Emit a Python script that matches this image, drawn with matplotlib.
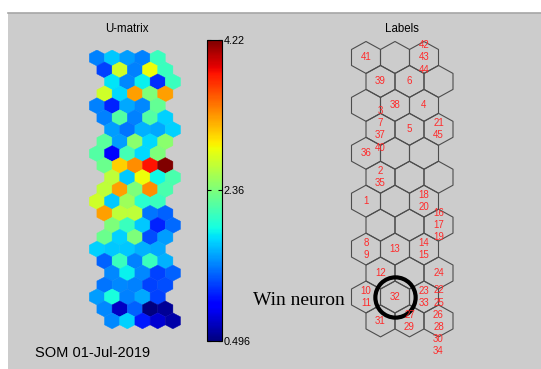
import numpy as np
import matplotlib
matplotlib.use("Agg")
import matplotlib.pyplot as plt
from matplotlib.collections import PolyCollection
from matplotlib.colors import Normalize
from matplotlib.patches import Rectangle
from matplotlib.lines import Line2D

plt.rcParams['font.family'] = ['Liberation Sans', 'DejaVu Sans']

# U-matrix of the 12x3 hexagonal SOM (23x5 cells), top row first
umat = np.array([
    [1.43, 1.69, 1.54, 1.43, 2.06],
    [1.20, 2.73, 1.43, 2.88, 2.06],
    [1.80, 1.46, 1.84, 1.13, 2.06],
    [2.73, 1.76, 3.25, 2.36, 3.25],
    [1.43, 1.09, 1.58, 1.46, 2.25],
    [1.43, 2.17, 1.43, 2.17, 1.72],
    [1.54, 1.39, 1.61, 1.58, 1.72],
    [2.21, 1.54, 2.43, 1.76, 2.43],
    [2.17, 0.94, 2.10, 1.76, 2.36],
    [2.28, 3.07, 3.33, 3.81, 4.22],
    [2.66, 1.69, 2.88, 1.87, 2.13],
    [2.66, 3.25, 2.36, 3.33, 2.13],
    [2.73, 1.69, 2.51, 1.99, 2.06],
    [3.25, 2.66, 2.66, 1.39, 1.32],
    [2.36, 2.06, 1.69, 1.09, 1.35],
    [2.28, 1.72, 2.36, 1.24, 1.54],
    [1.72, 1.69, 1.69, 1.61, 1.58],
    [1.32, 2.06, 1.43, 2.06, 1.61],
    [1.46, 1.84, 1.46, 1.20, 1.32],
    [1.39, 1.46, 1.43, 1.20, 1.24],
    [1.54, 1.91, 1.43, 1.58, 1.20],
    [1.46, 0.72, 1.32, 0.50, 0.57],
    [1.46, 1.72, 1.05, 0.76, 0.64],
])

# sample labels hitting each map unit: (row, col) -> labels
unit_labels = {
    (0, 0): [41], (0, 2): [42, 43, 44],
    (1, 0): [39], (1, 1): [6],
    (2, 1): [38], (2, 2): [4],
    (3, 0): [3, 7, 37, 40], (3, 1): [5], (3, 2): [21, 45],
    (4, 0): [36],
    (5, 0): [2, 35],
    (6, 0): [1], (6, 2): [18, 20],
    (7, 2): [16, 17, 19],
    (8, 0): [8, 9], (8, 1): [13], (8, 2): [14, 15],
    (9, 0): [12], (9, 2): [24],
    (10, 0): [10, 11], (10, 1): [32], (10, 2): [23, 33],
    (11, 0): [31], (11, 1): [27, 29], (11, 2): [22, 25, 26, 28, 30, 34],
}
map_rows, map_cols = 12, 3
win_unit = (10, 1)

cmin, cmax = 0.496, 4.22
cbar_ticks = [0.496, 2.36, 4.22]
cbar_ticklabels = ['0.496', '2.36', '4.22']

W, H = 541, 369
fig = plt.figure(figsize=(W / 100, H / 100), dpi=100, facecolor='white')


def box(left, top, width, height):
    # pixel box -> figure fraction rect
    return [left / W, 1 - (top + height) / H, width / W, height / H]


def hexagon(x, y):
    return [(x, y - 2 / 3), (x + 0.5, y - 1 / 3), (x + 0.5, y + 1 / 3),
            (x, y + 2 / 3), (x - 0.5, y + 1 / 3), (x - 0.5, y - 1 / 3)]


# grey window panel
fig.patches.append(Rectangle((8 / W, 0), 1 - 8 / W, 1 - 13 / H, transform=fig.transFigure,
                             facecolor='#cccccc', edgecolor='none', zorder=-2))
fig.lines.append(Line2D([8 / W, 1], [1 - 12.5 / H] * 2, transform=fig.transFigure,
                        color='#a6a6a6', lw=1.2))

# U-matrix
ax_u = fig.add_axes(box(89.3, 50.0, 91.2, 278.8))
shift = [0, 0.5, 1, 0.5]
nr, nc = umat.shape
polys = [hexagon(c + shift[r % 4], r) for r in range(nr) for c in range(nc)]
pc = PolyCollection(polys, array=umat.ravel(), cmap='jet', norm=Normalize(cmin, cmax),
                    edgecolors='face', linewidths=0.3)
ax_u.add_collection(pc)
ax_u.set_xlim(-0.5, 5.5)
ax_u.set_ylim(nr - 1 + 2 / 3, -2 / 3)
ax_u.axis('off')
fig.text(127 / W, 1 - 29 / H, 'U-matrix', ha='center', va='center', fontsize=8.3)

# colorbar
cax = fig.add_axes(box(206.7, 40, 15, 301))
cb = fig.colorbar(pc, cax=cax, ticks=cbar_ticks)
cb.ax.set_yticklabels(cbar_ticklabels)
cax.tick_params(direction='in', left=True, right=True, length=3, width=0.8,
                labelsize=7.8, pad=1.5)
cb.outline.set_linewidth(0.8)

# labels map
ax_l = fig.add_axes(box(351.5, 41.5, 101.5, 295.4))
polys = [hexagon(c + 0.5 * (r % 2), r) for r in range(map_rows) for c in range(map_cols)]
grid = PolyCollection(polys, facecolors='none', edgecolors='#4d4d4d', linewidths=0.8)
grid.set_clip_on(False)
ax_l.add_collection(grid)
for (r, c), labs in unit_labels.items():
    x = c + 0.5 * (r % 2)
    n = len(labs)
    for k, lab in enumerate(labs):
        ax_l.text(x, r + (k - (n - 1) / 2) * 0.51, str(lab), color='#ff2a2a',
                  fontsize=7, ha='center', va='center', clip_on=False)
wr, wc = win_unit
ax_l.plot(wc + 0.5 * (wr % 2), wr, 'o', ms=29, mfc='none', mec='k', mew=3, clip_on=False)
ax_l.set_xlim(-0.5, 3.0)
ax_l.set_ylim(map_rows - 1 + 2 / 3, -2 / 3)
ax_l.axis('off')
fig.text(402 / W, 1 - 29 / H, 'Labels', ha='center', va='center', fontsize=8.3)

fig.text(253 / W, 1 - 305 / H, 'Win neuron', ha='left', va='baseline', fontsize=14,
         family='Liberation Serif')
fig.text(35 / W, 1 - 356.7 / H, 'SOM 01-Jul-2019', ha='left', va='baseline', fontsize=10.5)

fig.savefig('out.png', dpi=100, facecolor=fig.get_facecolor())
